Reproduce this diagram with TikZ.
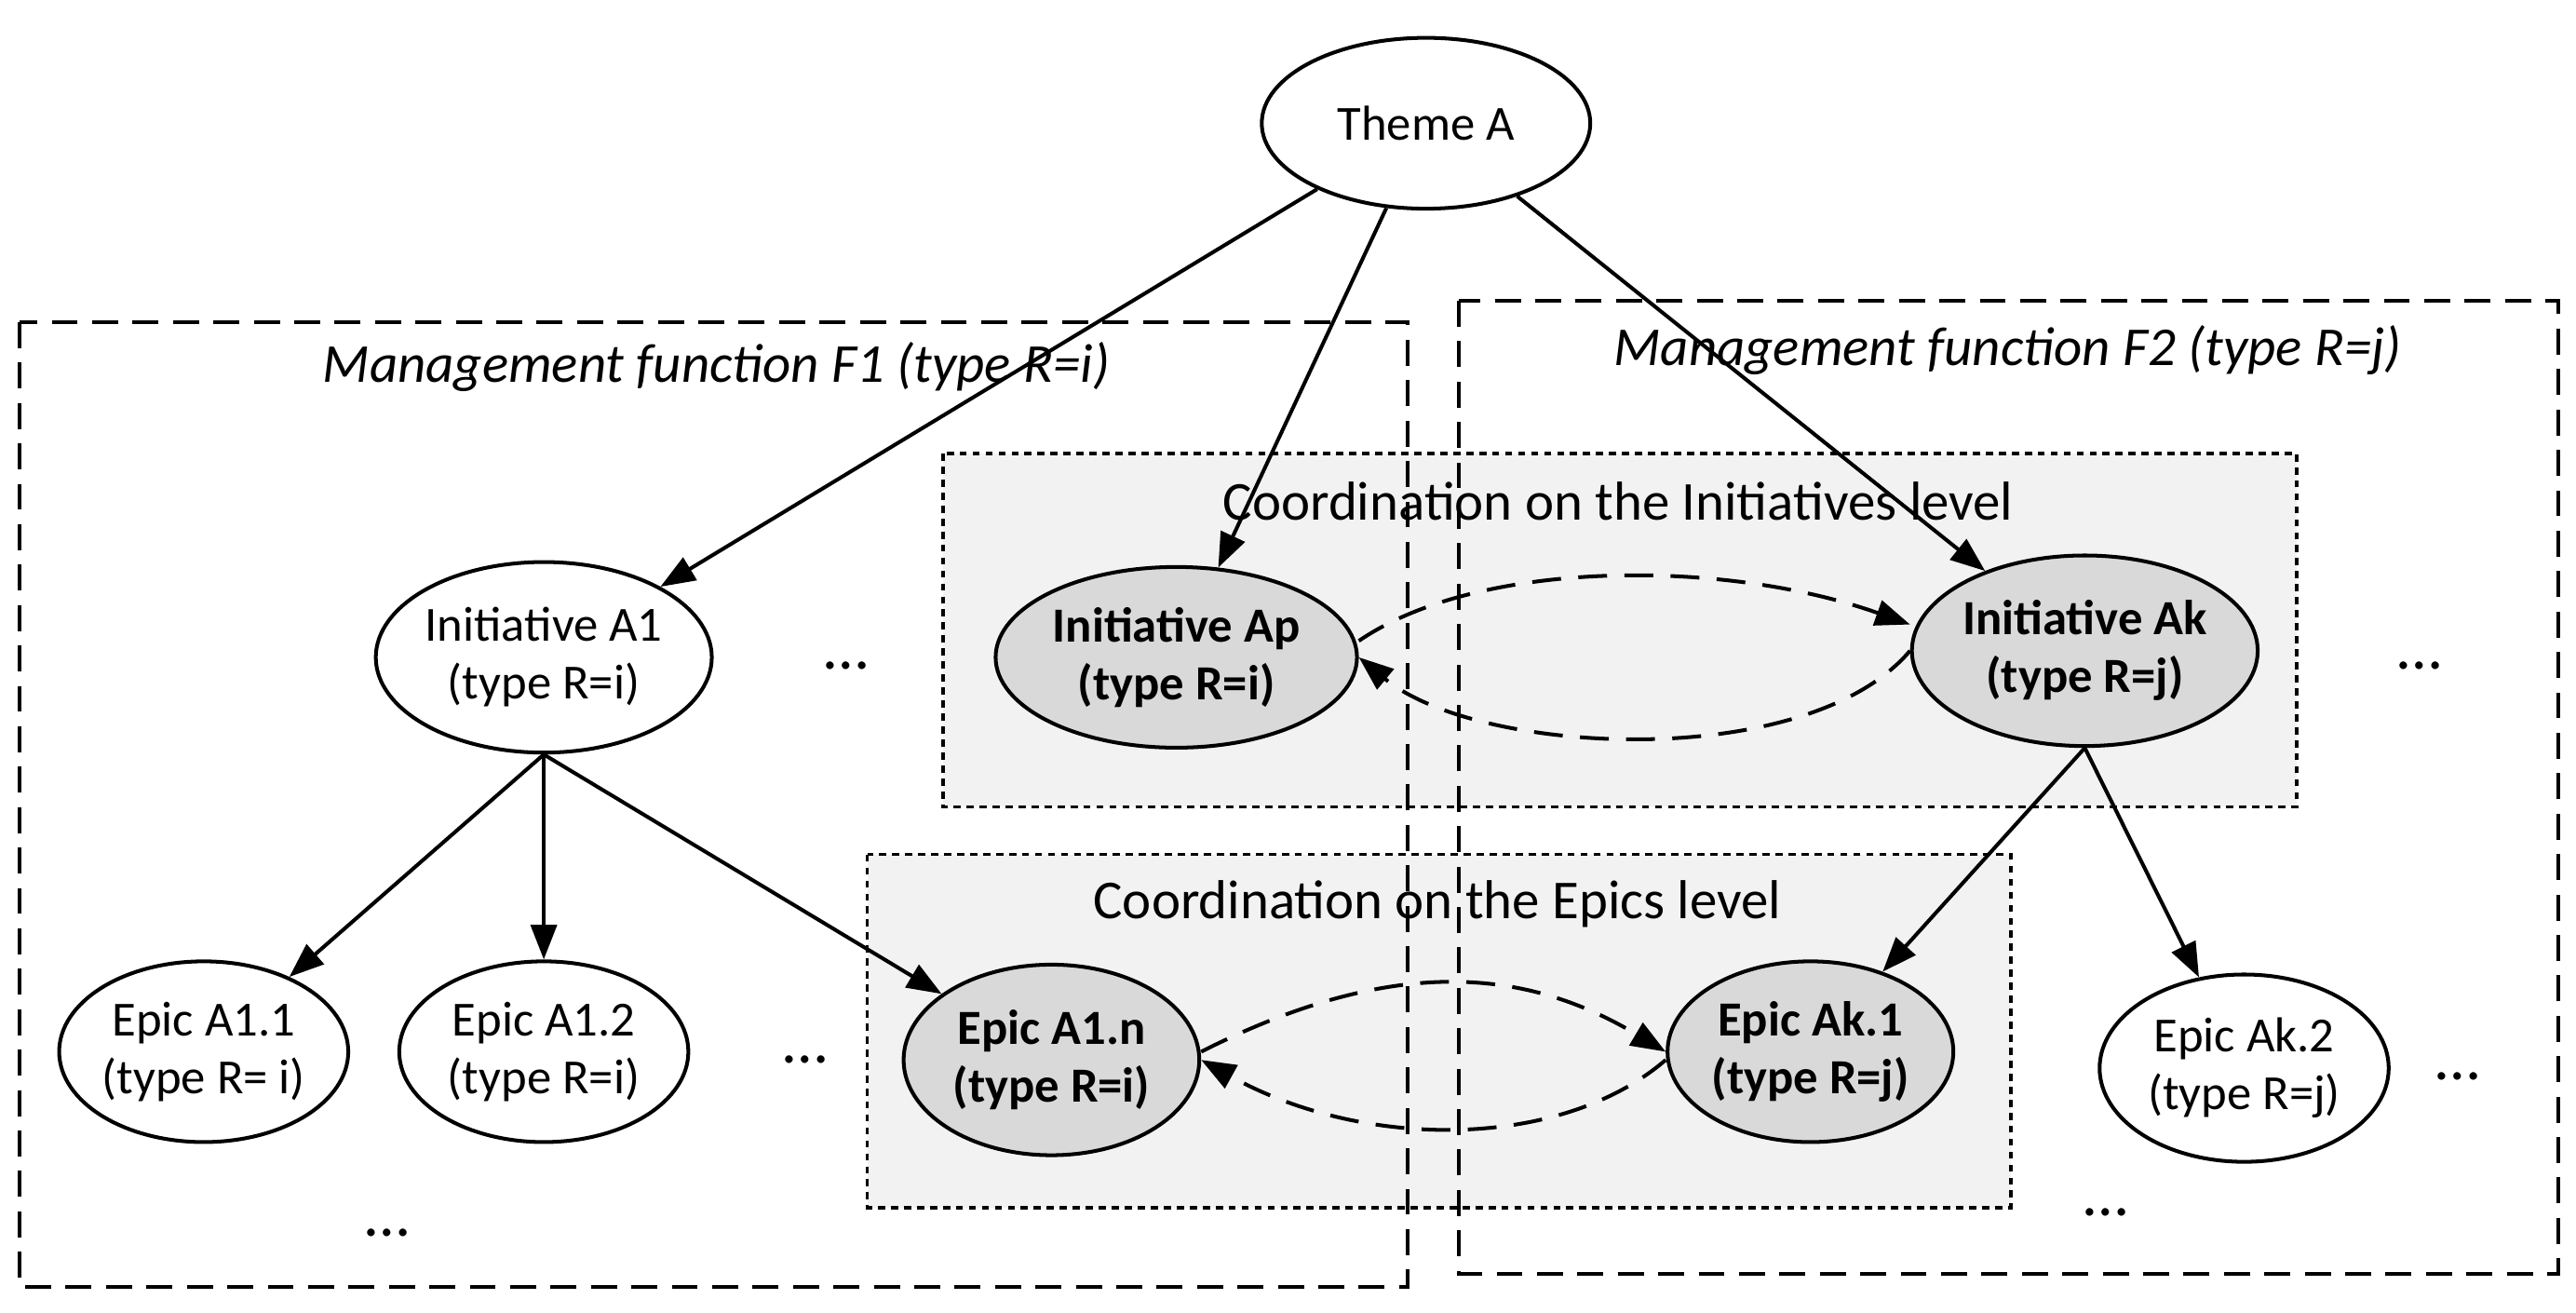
\documentclass[tikz,border=0pt]{standalone}
\usepackage{fontspec}
\setmainfont{Carlito}
\usetikzlibrary{shapes.geometric,arrows.meta}
\begin{document}
\begin{tikzpicture}[x=0.02cm,y=-0.02cm,
  el/.style={ellipse,draw,line width=1.3pt,fill=white,inner sep=0pt,align=center,font=\fontsize{17}{20}\selectfont},
  gel/.style={el,fill=gray!30,font=\fontsize{17}{20}\selectfont\bfseries},
  arr/.style={line width=1.3pt,-{Triangle[length=12pt,width=9pt]}},
  darr/.style={arr,dash pattern=on 10pt off 6pt},
  fbox/.style={line width=1.3pt,dash pattern=on 9pt off 5pt},
  cbox/.style={fill=gray!10,draw,line width=1.1pt,dash pattern=on 2.5pt off 2pt},
  ttl/.style={font=\fontsize{19}{22}\selectfont\itshape},
  ctl/.style={font=\fontsize{19}{22}\selectfont},
  dots/.style={font=\fontsize{22}{24}\selectfont}]
\useasboundingbox (0,0) rectangle (1568,799);
\fill[white] (0,0) rectangle (1568,799);
\draw[cbox] (574,276) rectangle (1398,491);
\draw[cbox] (528,520) rectangle (1224,735);
\draw[fbox] (12,196) rectangle (857,783);
\draw[fbox] (888,183) rectangle (1557,775);
\node[ttl] (t1) at (436,223) {Management function F1 (type R=i)};
\node[ttl] (t2) at (1222,213) {Management function F2 (type R=j)};
\node[ctl] (c1) at (985,305) {Coordination on the Initiatives level};
\node[ctl] (c2) at (875,550) {Coordination on the Epics level};
\node[el,minimum width=4cm,minimum height=2.08cm] (theme) at (868,75) {Theme A};
\node[el,minimum width=3.52cm,minimum height=2.32cm] (a1) at (331,400) {Initiative A1\\(type R=i)};
\node[gel,minimum width=4.4cm,minimum height=2.2cm] (ap) at (716,400) {Initiative Ap\\(type R=i)};
\node[gel,minimum width=4cm,minimum height=2.32cm] (ak) at (1269,396) {Initiative Ak\\(type R=j)};
\node[el,minimum width=3.52cm,minimum height=2.2cm] (e11) at (124,640) {Epic A1.1\\(type R= i)};
\node[el,minimum width=3.52cm,minimum height=2.2cm] (e12) at (331,640) {Epic A1.2\\(type R=i)};
\node[gel,minimum width=3.6cm,minimum height=2.32cm] (e1n) at (640,645) {Epic A1.n\\(type R=i)};
\node[gel,minimum width=3.48cm,minimum height=2.2cm] (ek1) at (1102,640) {Epic Ak.1\\(type R=j)};
\node[el,minimum width=3.52cm,minimum height=2.28cm] (ek2) at (1366,650) {Epic Ak.2\\(type R=j)};
\node[dots] (d1) at (515,405) {\dots};
\node[dots] (d2) at (1473,405) {\dots};
\node[dots] (d3) at (490,645) {\dots};
\node[dots] (d4) at (1496,655) {\dots};
\node[dots] (d5) at (236,750) {\dots};
\node[dots] (d6) at (1282,738) {\dots};
\draw[arr] (theme) -- (a1);
\draw[arr] (theme) -- (ap);
\draw[arr] (theme) -- (ak);
\draw[arr] (a1.south) -- (e11);
\draw[arr] (a1.south) -- (e12);
\draw[arr] (a1.south) -- (e1n);
\draw[arr] (ak.south) -- (ek1);
\draw[arr] (ak.south) -- (ek2);
\draw[darr] (ap.east) ++(0,-10) coordinate (s1) .. controls (900,340) and (1050,340) .. (ak.west |- 0,380);
\draw[darr] (ak.west) ++(0,0) coordinate (s2) .. controls (1100,470) and (900,460) .. (ap.east);
\draw[darr] (e1n.east) ++(0,-5) coordinate (s3) .. controls (850,580) and (930,590) .. (ek1.west);
\draw[darr] (ek1.west) ++(0,5) coordinate (s4) .. controls (950,700) and (830,700) .. (e1n.east);
\end{tikzpicture}
\end{document}
